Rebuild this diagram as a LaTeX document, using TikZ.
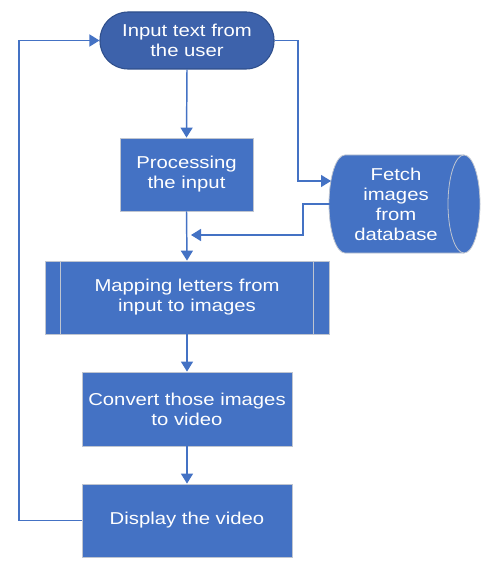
\documentclass[tikz,border=0pt]{standalone}
\usepackage{fontspec}
\setmainfont{Liberation Sans}[FakeStretch=1.18]
\usetikzlibrary{arrows.meta}
\definecolor{boxblue}{HTML}{4472C4}
\definecolor{termblue}{HTML}{3D62AB}
\definecolor{termborder}{HTML}{2F4F8C}
\definecolor{boxborder}{HTML}{BFC5D0}
\definecolor{lineblue}{HTML}{4472C4}
\tikzset{
  txt/.style={text=white, font=\fontsize{12.9}{15}\selectfont, align=center, inner sep=0pt},
  procbox/.style={txt, rectangle, fill=boxblue, draw=boxborder, line width=0.6pt},
  termbox/.style={txt, rectangle, rounded corners=21pt, fill=termblue, draw=termborder, line width=0.8pt},
  conn/.style={draw=lineblue, line width=1.1pt},
  arr/.style={conn, -{Triangle[length=7.5pt,width=9pt]}},
}
\begin{document}
\begin{tikzpicture}[x=0.75pt,y=-0.75pt]
\useasboundingbox (0,0) rectangle (490,570);
% cylinder (fetch)
\fill[boxblue] (345,155) -- (464,155)
  .. controls (472.84,155) and (480,176.94) .. (480,204)
  .. controls (480,231.06) and (472.84,253) .. (464,253)
  -- (345,253)
  .. controls (336.16,253) and (329,231.06) .. (329,204)
  .. controls (329,176.94) and (336.16,155) .. (345,155) -- cycle;
\draw[boxborder, line width=0.6pt] (345,155) -- (464,155)
  .. controls (472.84,155) and (480,176.94) .. (480,204)
  .. controls (480,231.06) and (472.84,253) .. (464,253)
  -- (345,253)
  .. controls (336.16,253) and (329,231.06) .. (329,204)
  .. controls (329,176.94) and (336.16,155) .. (345,155) -- cycle;
\draw[boxborder, line width=0.6pt] (464,155)
  .. controls (455.16,155) and (448,176.94) .. (448,204)
  .. controls (448,231.06) and (455.16,253) .. (464,253);
\node[txt, minimum width=99pt, minimum height=73.5pt] (fetch) at (396,204) {Fetch\\images\\from\\database};

\node[termbox, minimum width=130.5pt, minimum height=42.75pt] (term) at (187,40.5) {Input text from\\the user};
\node[procbox, minimum width=99.75pt, minimum height=54.75pt] (proc) at (186.5,174.5) {Processing\\the input};
\node[procbox, minimum width=213pt, minimum height=54.75pt] (map) at (187,297.5) {Mapping letters from\\input to images};
\draw[boxborder, line width=0.6pt] ([xshift=12pt]map.north west) -- ([xshift=12pt]map.south west);
\draw[boxborder, line width=0.6pt] ([xshift=-12pt]map.north east) -- ([xshift=-12pt]map.south east);
\node[procbox, minimum width=157.5pt, minimum height=55.5pt] (conv) at (187,409) {Convert those images\\to video};
\node[procbox, minimum width=157.5pt, minimum height=54.75pt] (disp) at (187,520.5) {Display the video};

\coordinate (fin) at (331,181);
\coordinate (fout) at (330,204);
\coordinate (join) at (191,235);

\draw[arr] (term.south) -- (proc.north);
\draw[arr] (proc.south) -- (map.north);
\draw[arr] (map.south) -- (conv.north);
\draw[arr] (conv.south) -- (disp.north);
\draw[arr] (term.east) -- (298,40.5) |- (fin);
\draw[arr] (fout) -- (303,204) |- (join);
\draw[arr] (disp.west) -- (19,520.5) |- (term.west);
\end{tikzpicture}
\end{document}
